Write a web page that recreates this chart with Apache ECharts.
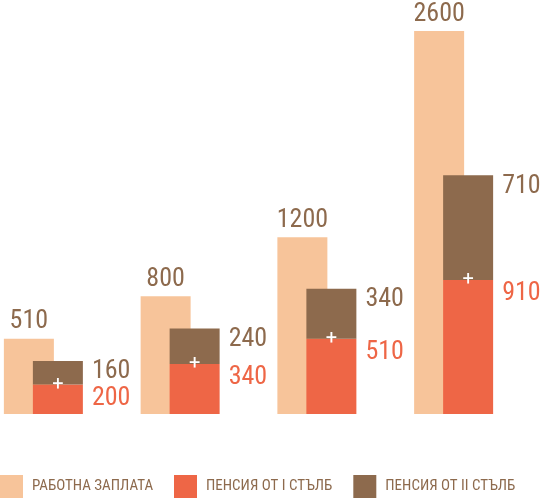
<!DOCTYPE html>
<html>
<head>
<meta charset="utf-8">
<script src="https://cdn.jsdelivr.net/npm/echarts@6/dist/echarts.min.js"></script>
<style>
html, body { margin: 0; padding: 0; background: #fff; }
#chart { width: 542px; height: 499px; }
</style>
</head>
<body>
<div id="chart"></div>
<script>
const groups = ['1', '2', '3', '4']
const salary = [510, 800, 1200, 2600]
const pensionI = [200, 340, 510, 910]
const pensionII = [160, 240, 340, 710]
const junction = [0, 0, 0, 0]
const names = ['РАБОТНА ЗАПЛАТА', 'ПЕНСИЯ ОТ I СТЪЛБ', 'ПЕНСИЯ ОТ II СТЪЛБ']

const brown = '#8d6a4d'
const orange = '#ee6646'
const peach = '#f7c49a'
const font = '"Liberation Sans Narrow", "Roboto Condensed", Roboto'

const chart = echarts.init(document.getElementById('chart'))
const options = {
    backgroundColor: '#fff',
    animation: false,
    color: [peach, orange, brown],
    grid: { left: -25, width: 547, top: 31, bottom: 85, outerBoundsMode: 'none', containLabel: false },
    legend: {
        left: 0,
        top: 475,
        padding: 0,
        itemWidth: 23,
        itemHeight: 23,
        itemGap: 21,
        icon: 'rect',
        data: names,
        textStyle: { color: brown, fontSize: 15, fontFamily: font, padding: [0, 0, 0, 4] }
    },
    xAxis: { type: 'category', data: groups, show: false },
    yAxis: { type: 'value', min: 0, max: 2600, show: false },
    series: [
        {
            name: names[0],
            type: 'bar',
            stack: 'a',
            barWidth: 50,
            barGap: '-42%',
            data: salary,
            label: {
                show: true, position: 'top', distance: 4,
                color: brown, fontSize: 26, fontFamily: font
            }
        },
        {
            name: names[1],
            type: 'bar',
            stack: 'b',
            barWidth: 50,
            data: pensionI,
            label: {
                show: true, position: [59, 14], verticalAlign: 'middle',
                color: orange, fontSize: 26, fontFamily: font
            }
        },
        {
            name: 'junction',
            type: 'bar',
            stack: 'b',
            barWidth: 50,
            data: junction,
            itemStyle: { color: 'transparent' },
            label: {
                show: true, position: 'inside', formatter: '+',
                color: '#fff', fontSize: 20, fontFamily: 'Roboto'
            }
        },
        {
            name: names[2],
            type: 'bar',
            stack: 'b',
            barWidth: 50,
            data: pensionII,
            label: {
                show: true, position: [59, 11], verticalAlign: 'middle',
                color: brown, fontSize: 26, fontFamily: font
            }
        }
    ]
}
chart.setOption(options)
</script>
</body>
</html>
